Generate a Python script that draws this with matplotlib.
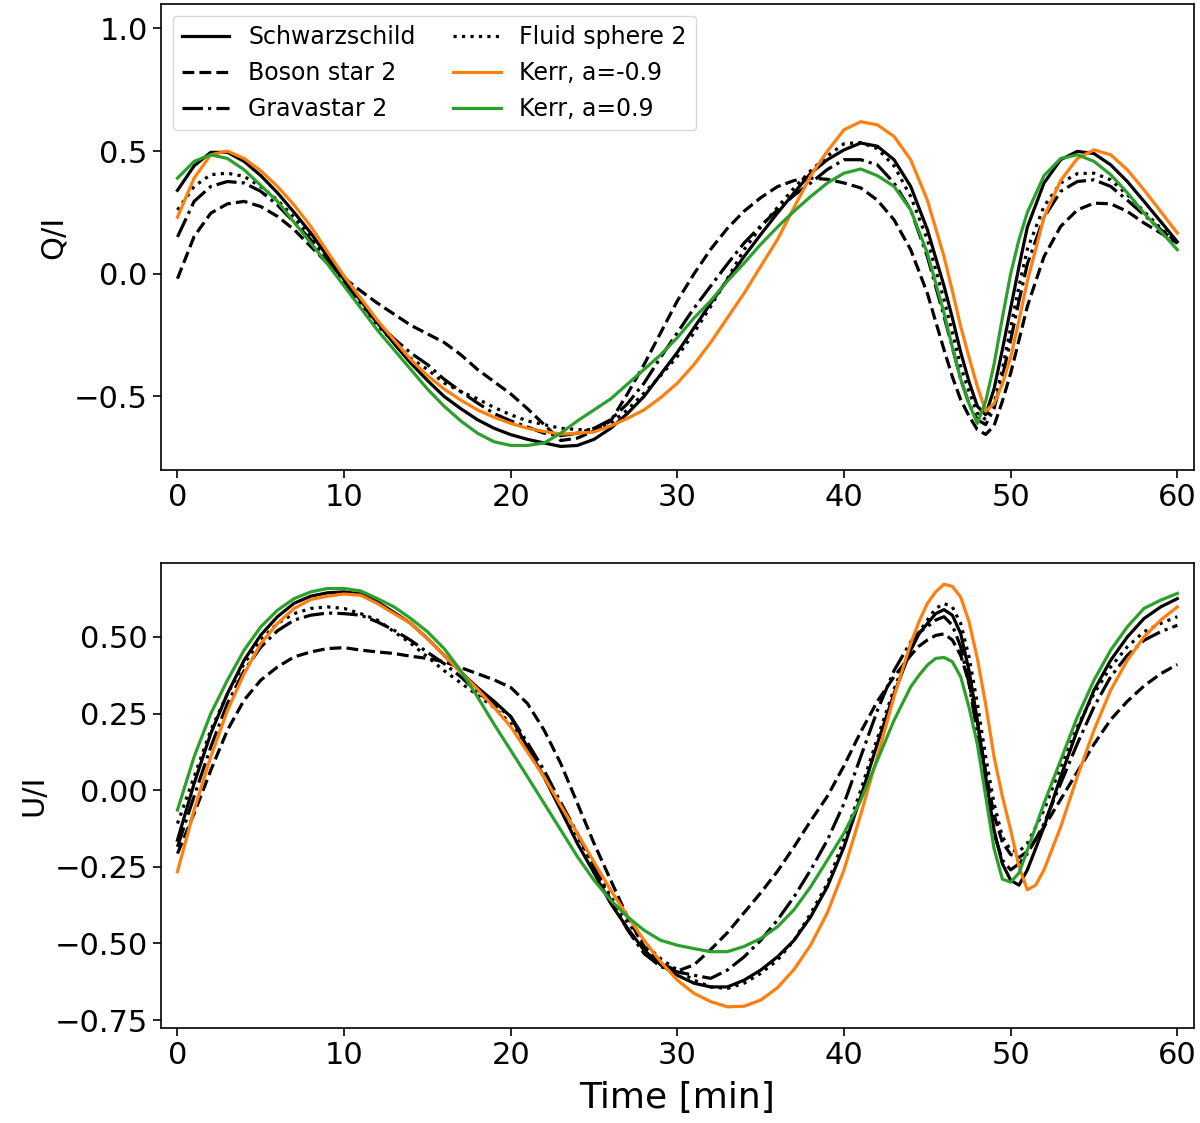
import matplotlib
matplotlib.use("Agg")
import matplotlib.pyplot as plt

# ---------------- data ----------------
t_q = [0, 1, 2, 3, 4, 5, 6, 7, 8, 9, 10, 11, 12, 13, 14, 15, 16, 17, 18, 19,
       20, 21, 22, 23, 24, 25, 26, 27, 28, 29, 30, 31, 32, 33, 34, 35, 36, 37, 38, 39,
       40, 41, 42, 43, 44, 45, 46, 46.5, 47, 47.5, 48, 48.5, 49, 49.5, 50, 50.5,
       51, 52, 53, 54, 55, 56, 57, 58, 59, 60]

q_schw = [0.34, 0.44, 0.495, 0.495, 0.458, 0.40, 0.33, 0.25, 0.166, 0.07,
          -0.024, -0.11, -0.20, -0.285, -0.364, -0.435, -0.50, -0.55, -0.595, -0.63,
          -0.656, -0.675, -0.69, -0.704, -0.70, -0.675, -0.63, -0.57, -0.50, -0.41,
          -0.32, -0.22, -0.12, -0.025, 0.07, 0.16, 0.247, 0.33, 0.41, 0.465,
          0.505, 0.533, 0.52, 0.465, 0.356, 0.18, -0.05,
          -0.18, -0.32, -0.44, -0.54, -0.575, -0.47, -0.31, -0.14, 0.03,
          0.19, 0.37, 0.465, 0.499, 0.49, 0.444, 0.376, 0.295, 0.213, 0.13]
q_boson = [-0.02, 0.152, 0.247, 0.285, 0.295, 0.274, 0.234, 0.18, 0.111, 0.043,
           -0.018, -0.07, -0.12, -0.165, -0.21, -0.245, -0.28, -0.33, -0.39, -0.44,
           -0.49, -0.55, -0.615, -0.68, -0.67, -0.64, -0.60, -0.49, -0.37, -0.24,
           -0.11, 0.0, 0.10, 0.185, 0.255, 0.31, 0.355, 0.38, 0.39, 0.385,
           0.37, 0.35, 0.30, 0.22, 0.098, -0.08, -0.31,
           -0.42, -0.514, -0.58, -0.636, -0.655, -0.62, -0.52, -0.405, -0.27,
           -0.133, 0.07, 0.193, 0.26, 0.288, 0.285, 0.254, 0.207, 0.166, 0.125]
q_grav = [0.15, 0.295, 0.356, 0.376, 0.37, 0.336, 0.28, 0.21, 0.139, 0.05,
          -0.04, -0.12, -0.20, -0.265, -0.323, -0.37, -0.43, -0.48, -0.527, -0.57,
          -0.60, -0.625, -0.65, -0.66, -0.65, -0.63, -0.595, -0.53, -0.446, -0.34,
          -0.24, -0.14, -0.05, 0.04, 0.125, 0.195, 0.26, 0.32, 0.37, 0.425,
          0.465, 0.465, 0.444, 0.37, 0.26, 0.07, -0.174,
          -0.30, -0.43, -0.53, -0.595, -0.615, -0.55, -0.42, -0.27, -0.11,
          0.04, 0.23, 0.336, 0.376, 0.383, 0.356, 0.30, 0.24, 0.18, 0.125]
q_fluid = [0.26, 0.356, 0.404, 0.41, 0.397, 0.355, 0.30, 0.23, 0.152, 0.06,
           -0.04, -0.125, -0.21, -0.28, -0.345, -0.39, -0.445, -0.48, -0.51, -0.545,
           -0.575, -0.60, -0.615, -0.63, -0.635, -0.636, -0.61, -0.555, -0.486, -0.415,
           -0.337, -0.24, -0.133, -0.02, 0.098, 0.19, 0.27, 0.35, 0.42, 0.48,
           0.53, 0.535, 0.51, 0.44, 0.315, 0.139, -0.106,
           -0.24, -0.378, -0.48, -0.568, -0.595, -0.53, -0.39, -0.22, -0.05,
           0.10, 0.275, 0.37, 0.408, 0.41, 0.383, 0.322, 0.254, 0.186, 0.125]
q_kerr_m = [0.23, 0.39, 0.485, 0.50, 0.47, 0.42, 0.356, 0.28, 0.193, 0.09,
            -0.01, -0.10, -0.19, -0.27, -0.35, -0.415, -0.47, -0.515, -0.555, -0.585,
            -0.61, -0.63, -0.643, -0.654, -0.65, -0.645, -0.62, -0.59, -0.555, -0.505,
            -0.446, -0.37, -0.28, -0.18, -0.08, 0.03, 0.139, 0.27, 0.40, 0.50,
            0.587, 0.62, 0.607, 0.56, 0.465, 0.30, 0.07,
            -0.07, -0.215, -0.34, -0.46, -0.56, -0.53, -0.45, -0.34, -0.19,
            -0.03, 0.23, 0.38, 0.47, 0.505, 0.485, 0.424, 0.342, 0.254, 0.166]
q_kerr_p = [0.39, 0.458, 0.485, 0.47, 0.424, 0.36, 0.295, 0.21, 0.125, 0.04,
            -0.05, -0.14, -0.23, -0.31, -0.39, -0.47, -0.54, -0.60, -0.65, -0.685,
            -0.70, -0.70, -0.69, -0.65, -0.60, -0.555, -0.51, -0.45, -0.39, -0.33,
            -0.26, -0.18, -0.11, -0.03, 0.043, 0.12, 0.19, 0.255, 0.315, 0.37,
            0.41, 0.427, 0.40, 0.356, 0.26, 0.084, -0.16,
            -0.30, -0.43, -0.53, -0.61, -0.52, -0.37, -0.18, 0.0, 0.14,
            0.25, 0.40, 0.47, 0.485, 0.458, 0.404, 0.33, 0.247, 0.173, 0.098]

t_u = [0, 1, 2, 3, 4, 5, 6, 7, 8, 9, 10, 11, 12, 13, 14, 15, 16, 17, 18, 19,
       20, 21, 22, 23, 24, 25, 26, 27, 28, 29, 30, 31, 32, 33, 34, 35, 36, 37, 38, 39,
       40, 41, 42, 43, 44, 44.5, 45, 45.5, 46, 46.5, 47, 47.5, 48, 48.5, 49, 49.5,
       50, 50.5, 51, 51.5, 52, 53, 54, 55, 56, 57, 58, 59, 60]

u_schw = [-0.163, 0.022, 0.185, 0.315, 0.424, 0.506, 0.566, 0.61, 0.633, 0.644,
          0.647, 0.64, 0.614, 0.58, 0.544, 0.495, 0.44, 0.385, 0.335, 0.29,
          0.24, 0.14, 0.043, -0.065, -0.174, -0.27, -0.37, -0.45, -0.522, -0.57,
          -0.604, -0.63, -0.642, -0.642, -0.62, -0.587, -0.544, -0.49, -0.413, -0.315,
          -0.185, -0.022, 0.152, 0.315, 0.457,
          0.51, 0.544, 0.576, 0.589, 0.571, 0.511, 0.39, 0.228, 0.044, -0.13, -0.24,
          -0.294, -0.31, -0.26, -0.19,
          -0.12, 0.044, 0.196, 0.326, 0.424, 0.50, 0.56, 0.598, 0.625]
u_boson = [-0.207, -0.076, 0.065, 0.196, 0.294, 0.359, 0.402, 0.435, 0.451, 0.462,
           0.465, 0.457, 0.451, 0.446, 0.437, 0.43, 0.419, 0.40, 0.38, 0.36,
           0.335, 0.283, 0.196, 0.087, -0.043, -0.174, -0.294, -0.413, -0.51, -0.565,
           -0.59, -0.57, -0.52, -0.465, -0.40, -0.335, -0.265, -0.185, -0.10, -0.02,
           0.08, 0.19, 0.29, 0.37, 0.44,
           0.47, 0.49, 0.505, 0.51, 0.49, 0.44, 0.35, 0.22, 0.06, -0.08, -0.17,
           -0.21, -0.22, -0.20, -0.16,
           -0.12, -0.03, 0.06, 0.15, 0.23, 0.29, 0.34, 0.38, 0.41]
u_grav = [-0.185, -0.02, 0.141, 0.283, 0.39, 0.467, 0.52, 0.555, 0.571, 0.578,
          0.576, 0.571, 0.549, 0.522, 0.489, 0.45, 0.413, 0.37, 0.32, 0.28,
          0.24, 0.155, 0.065, -0.04, -0.141, -0.25, -0.359, -0.455, -0.533, -0.576,
          -0.593, -0.604, -0.614, -0.587, -0.544, -0.49, -0.424, -0.348, -0.26, -0.163,
          -0.043, 0.109, 0.26, 0.39, 0.484,
          0.515, 0.533, 0.555, 0.566, 0.538, 0.468, 0.348, 0.185, 0.011, -0.141, -0.228,
          -0.26, -0.24, -0.207, -0.16,
          -0.109, 0.022, 0.152, 0.272, 0.37, 0.44, 0.489, 0.517, 0.538]
u_fluid = [-0.109, 0.044, 0.196, 0.315, 0.413, 0.49, 0.544, 0.576, 0.593, 0.598,
           0.593, 0.576, 0.555, 0.517, 0.479, 0.435, 0.39, 0.35, 0.31, 0.27,
           0.217, 0.13, 0.043, -0.055, -0.152, -0.25, -0.348, -0.43, -0.50, -0.55,
           -0.587, -0.62, -0.642, -0.647, -0.63, -0.598, -0.555, -0.49, -0.402, -0.305,
           -0.16, 0.0, 0.17, 0.33, 0.465,
           0.515, 0.555, 0.593, 0.609, 0.598, 0.544, 0.435, 0.283, 0.109, -0.043, -0.152,
           -0.196, -0.20, -0.174, -0.12,
           -0.065, 0.076, 0.207, 0.315, 0.402, 0.468, 0.517, 0.544, 0.566]
u_kerr_m = [-0.266, -0.065, 0.109, 0.26, 0.38, 0.478, 0.544, 0.593, 0.622, 0.633,
            0.64, 0.636, 0.609, 0.576, 0.544, 0.495, 0.44, 0.385, 0.33, 0.27,
            0.207, 0.125, 0.043, -0.05, -0.141, -0.235, -0.326, -0.41, -0.49, -0.56,
            -0.62, -0.663, -0.69, -0.707, -0.705, -0.685, -0.645, -0.585, -0.505, -0.40,
            -0.26, -0.08, 0.109, 0.305, 0.479,
            0.55, 0.609, 0.647, 0.672, 0.665, 0.63, 0.55, 0.43, 0.28, 0.11, -0.02,
            -0.13, -0.25, -0.325, -0.31,
            -0.26, -0.12, 0.044, 0.196, 0.326, 0.424, 0.50, 0.555, 0.598]
u_kerr_p = [-0.065, 0.109, 0.25, 0.359, 0.457, 0.533, 0.587, 0.625, 0.647, 0.658,
            0.658, 0.65, 0.625, 0.598, 0.56, 0.517, 0.462, 0.39, 0.305, 0.215,
            0.13, 0.044, -0.043, -0.13, -0.217, -0.294, -0.359, -0.413, -0.457, -0.49,
            -0.506, -0.517, -0.527, -0.527, -0.51, -0.484, -0.446, -0.39, -0.315, -0.228,
            -0.14, -0.033, 0.098, 0.228, 0.337,
            0.375, 0.408, 0.43, 0.433, 0.419, 0.37, 0.27, 0.15, -0.02, -0.19, -0.29,
            -0.30, -0.27, -0.196, -0.12,
            -0.043, 0.098, 0.239, 0.359, 0.457, 0.533, 0.593, 0.62, 0.642]

labels = ["Schwarzschild", "Boson star 2", "Gravastar 2", "Fluid sphere 2",
          "Kerr, a=-0.9", "Kerr, a=0.9"]
xticks = [0, 10, 20, 30, 40, 50, 60]

# ---------------- figure ----------------
fig = plt.figure(figsize=(12, 11.23), dpi=100)
ax1 = fig.add_axes([0.134, 0.5815, 0.861, 0.415])
ax2 = fig.add_axes([0.134, 0.0846, 0.861, 0.414])

styles = [dict(color="black", ls="-"),
          dict(color="black", ls="--"),
          dict(color="black", ls="-."),
          dict(color="black", ls=":"),
          dict(color="#ff7f0e", ls="-"),
          dict(color="#2ca02c", ls="-")]
lw = 2.3

q_series = [q_schw, q_boson, q_grav, q_fluid, q_kerr_m, q_kerr_p]
u_series = [u_schw, u_boson, u_grav, u_fluid, u_kerr_m, u_kerr_p]

for ys, st, lab in zip(q_series, styles, labels):
    ax1.plot(t_q, ys, lw=lw, label=lab, **st)
for ys, st in zip(u_series, styles):
    ax2.plot(t_u, ys, lw=lw, **st)

for ax in (ax1, ax2):
    ax.set_xlim(-1, 61)
    ax.set_xticks(xticks)
    ax.tick_params(labelsize=22, length=6, width=1.2)
    for s in ax.spines.values():
        s.set_linewidth(1.2)

ax1.set_ylim(-0.8, 1.1)
ax1.set_yticks([-0.5, 0.0, 0.5, 1.0])
ax1.set_ylabel("Q/I", fontsize=22)
ax2.set_ylim(-0.776, 0.741)
ax2.set_yticks([-0.75, -0.5, -0.25, 0.0, 0.25, 0.5])
ax2.set_ylabel("U/I", fontsize=22)
ax2.set_xlabel("Time [min]", fontsize=26, labelpad=8)

ax1.legend(loc="upper left", ncol=2, fontsize=17, handlelength=2.0,
           columnspacing=1.6, borderaxespad=0.5)

fig.savefig("out.png", dpi=100)
